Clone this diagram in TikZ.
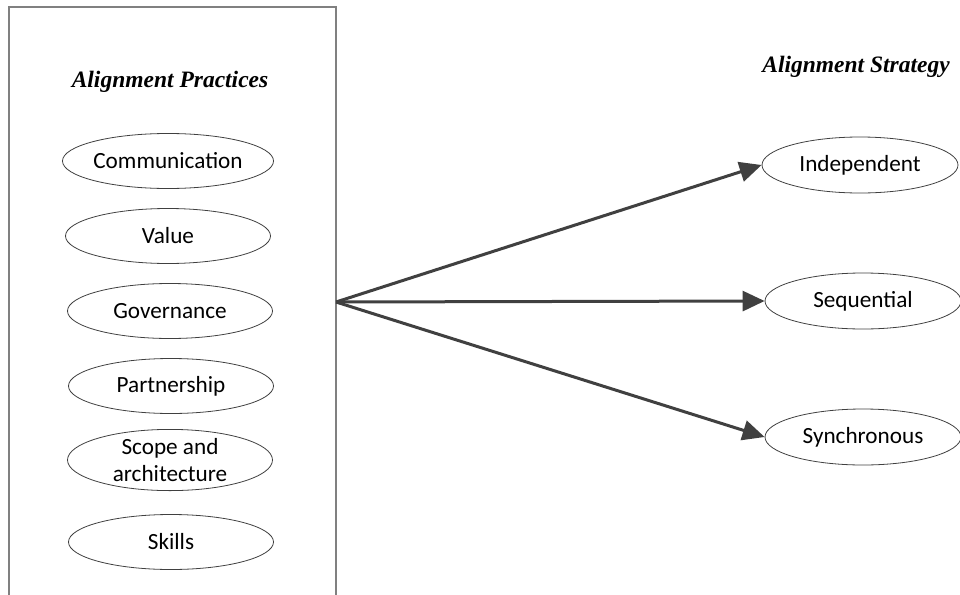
\documentclass[tikz,border=0pt]{standalone}
\usepackage{fontspec}
\setmainfont{Liberation Serif}
\newfontfamily\calib{Carlito}
\usetikzlibrary{arrows.meta,shapes.geometric}
\begin{document}
\begin{tikzpicture}[x=1pt,y=-1pt,
  oval/.style={ellipse,draw=black!75,line width=0.8pt,inner sep=0pt,minimum width=205pt,minimum height=55pt,font=\calib\fontsize{23.2}{27}\selectfont,align=center},
  roval/.style={oval,minimum width=196pt,minimum height=56pt},
  ttl/.style={font=\fontsize{23.5}{27}\selectfont\bfseries\itshape,inner sep=0pt,anchor=base},
  conn/.style={draw=black!75,line width=3pt,-{Triangle[length=22pt,width=20pt]}}]
\useasboundingbox (0,0) rectangle (960,594);
\draw[black!50,line width=1.3pt] (9,600) -- (9,7) -- (336,7) -- (336,600);
\node[ttl] (t1) at (170,87) {Alignment Practices};
\node[ttl] (t2) at (856,73) {Alignment Strategy};
\node[oval] (comm) at (168,161) {Communication};
\node[oval] (val) at (168,236) {Value};
\node[oval] (gov) at (170,311) {Governance};
\node[oval] (part) at (171,386) {Partnership};
\node[oval] (scope) at (170,460) {Scope and\\architecture};
\node[oval] (skill) at (171,542) {Skills};
\node[roval] (ind) at (860,165) {Independent};
\node[roval] (seq) at (863,301) {Sequential};
\node[roval] (syn) at (863,437) {Synchronous};
\coordinate (src) at (336,302);
\draw[conn] (src) -- (ind.west);
\draw[conn] (src) -- (seq.west);
\draw[conn] (src) -- (syn.west);
\end{tikzpicture}
\end{document}
